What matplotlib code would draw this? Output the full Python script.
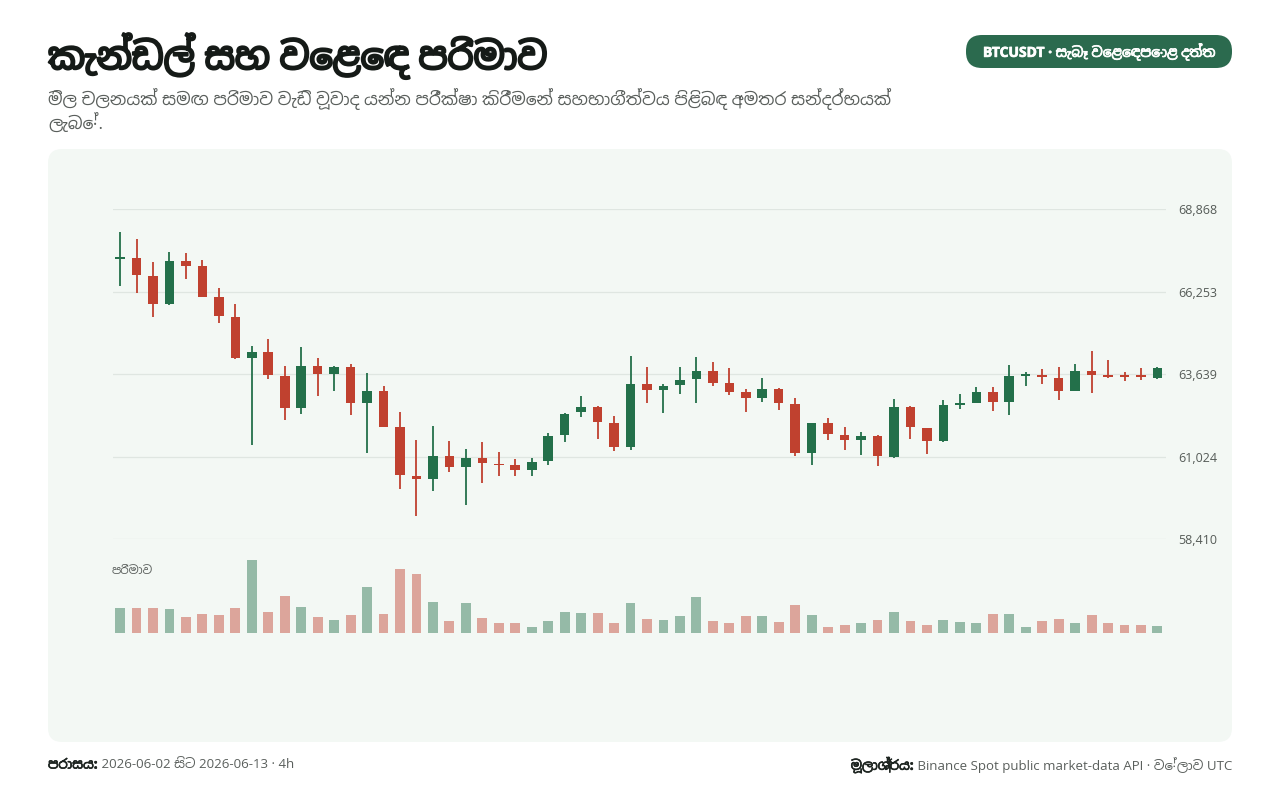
import numpy as np
import matplotlib
matplotlib.use("Agg")
import matplotlib.pyplot as plt
import matplotlib.patheffects as pe
from matplotlib import font_manager as fm
from matplotlib.ft2font import FT2Font
from matplotlib.patches import FancyBboxPatch
from matplotlib.ticker import FuncFormatter

# BTCUSDT 4h candles, 2026-06-02 .. 2026-06-13
opens = [67288, 67307, 66747, 65851, 67222, 67063, 66072, 65449, 64160, 64350,
         63581, 62546, 63888, 63644, 63866, 62735, 63106, 61944, 60415, 60298,
         61038, 60690, 60975, 60785, 60763, 60605, 60890, 61713, 62419, 62599,
         62071, 61311, 63328, 63138, 63296, 63495, 63749, 63350, 63065, 62875,
         63169, 62685, 61121, 62071, 61703, 61555, 61659, 61007, 62609, 61912,
         61501, 62663, 62716, 63084, 62748, 63590, 63622, 63508, 63106, 63749,
         63581, 63581, 63581, 63527]
highs = [68130, 67918, 67200, 67516, 67475, 67244, 66367, 65851, 64531, 64752,
         63897, 64489, 64151, 63907, 63961, 63666, 63255, 62432, 61532, 61976,
         61523, 61260, 61482, 61165, 60953, 60985, 61767, 62400, 62948, 62621,
         62305, 64223, 63856, 63328, 63856, 64182, 64034, 63834, 63160, 63518,
         63191, 62875, 62090, 62242, 61957, 61798, 61713, 62843, 62620, 61925,
         62821, 63001, 63242, 63233, 63920, 63698, 63802, 63856, 63951, 64382,
         64087, 63698, 63825, 63875]
lows = [66440, 66199, 65439, 65840, 66661, 66072, 65249, 64110, 61374, 63495,
        62197, 62387, 62948, 63106, 62346, 61121, 61950, 60003, 59139, 59940,
        60519, 59497, 60184, 60393, 60393, 60415, 60741, 61482, 62261, 61577,
        61184, 61216, 62716, 62409, 63001, 62716, 63264, 62979, 62419, 62748,
        62495, 61026, 60763, 61555, 61238, 61070, 60731, 60975, 61586, 61102,
        61490, 62536, 62705, 62473, 62346, 63274, 63318, 62821, 63095, 63052,
        63527, 63422, 63445, 63476]
closes = [67301, 66779, 65860, 67222, 67073, 66091, 65471, 64141, 64350, 63603,
          62546, 63897, 63644, 63866, 62735, 63106, 61966, 60437, 60310, 61038,
          60690, 60975, 60817, 60741, 60605, 60858, 61681, 62387, 62599, 62102,
          61311, 63318, 63138, 63264, 63464, 63749, 63369, 63084, 62875, 63169,
          62716, 61121, 62083, 61735, 61555, 61659, 61026, 62609, 61944, 61501,
          62663, 62716, 63084, 62748, 63590, 63644, 63559, 63106, 63749, 63603,
          63549, 63549, 63540, 63834]
volumes = [1250, 1235, 1235, 1200, 800, 950, 900, 1250, 3600, 1050,
           1815, 1300, 785, 650, 885, 2285, 915, 3135, 2915, 1550,
           615, 1500, 735, 485, 515, 315, 615, 1035, 1000, 965,
           515, 1485, 700, 620, 830, 1795, 605, 500, 830, 830,
           550, 1360, 880, 310, 380, 485, 620, 1050, 585, 395,
           620, 535, 485, 950, 915, 310, 585, 705, 515, 895,
           485, 395, 395, 330]
price_ticks = [58410, 61024, 63639, 66253, 68868]

title = "කැන්ඩල් සහ වෙළෙඳ පරිමාව"
subtitle1 = "මිල චලනයක් සමඟ පරිමාව වැඩි වූවාද යන්න පරීක්ෂා කිරීමෙන් සහභාගීත්වය පිළිබඳ අමතර සන්දර්භයක්"
subtitle2 = "ලැබේ."
badge = "BTCUSDT · සැබෑ වෙළෙඳපොළ දත්ත"
vol_label = "පරිමාව"
foot_l_bold, foot_l = "පරාසය:", " 2026-06-02 සිට 2026-06-13 · 4h"
foot_r_bold, foot_r = "මූලාශ්‍රය:", " Binance Spot public market-data API · වේලාව UTC"

UP = "#23704a"
DOWN = "#c0412f"
PANEL = "#f3f8f4"


def find_sinhala_font():
    # pick an installed font that has Sinhala glyphs, prefer a real Sinhala face
    found = []
    seen = set()
    for f in fm.fontManager.ttflist:
        if f.fname in seen:
            continue
        seen.add(f.fname)
        try:
            if 0x0D9A in FT2Font(f.fname).get_charmap():
                found.append(f.name)
        except Exception:
            pass
    if not found:
        return None
    def rank(name):
        low = name.lower()
        if "sinhala" in low or "iskoola" in low or "lklug" in low:
            return 0
        if "unifont" in low or "fixed" in low or "mono" in low:
            return 2
        return 1
    return sorted(found, key=rank)[0]


sin = find_sinhala_font()
fams = ["Open Sans"] + ([sin] if sin else []) + ["DejaVu Sans"]
plt.rcParams["font.family"] = fams


def heavy(color, w=1.0):
    # the Sinhala face has no bold weight, so thicken it with a stroke
    return [pe.withStroke(linewidth=w, foreground=color)]


W, H = 1280, 800
fig = plt.figure(figsize=(W / 100, H / 100), dpi=100)
fig.patch.set_facecolor("white")


def rect(x0, y0, x1, y1):
    return [x0 / W, 1 - y1 / H, (x1 - x0) / W, (y1 - y0) / H]


# background layer in pixel coordinates
bg = fig.add_axes([0, 0, 1, 1])
bg.set_xlim(0, W)
bg.set_ylim(H, 0)
bg.axis("off")
bg.add_patch(FancyBboxPatch((48, 149), 1184, 593, boxstyle="round,pad=0,rounding_size=14",
                            fc=PANEL, ec="none"))
bg.add_patch(FancyBboxPatch((966, 35), 266, 33, boxstyle="round,pad=0,rounding_size=16",
                            fc="#2b6a4e", ec="none"))
bg.text(1099, 52, badge, color="white", fontsize=10, fontweight="bold", ha="center", va="center",
        path_effects=heavy("white", 0.5))

bg.text(48, 56, title, fontsize=26.5, fontweight="bold", color="#151a17", va="center", ha="left",
        path_effects=heavy("#151a17", 1.6))
bg.text(48, 99, subtitle1, fontsize=12.3, color="#5a5f5c", va="center", ha="left")
bg.text(48, 124, subtitle2, fontsize=12.3, color="#5a5f5c", va="center", ha="left")
bg.text(112, 570, vol_label, fontsize=8.5, color="#5a5f5c", va="center", ha="left")

r = fig.canvas.get_renderer()
t = bg.text(48, 765, foot_l_bold, fontsize=9.5, fontweight="bold", color="#1d2420", va="center", ha="left",
            path_effects=heavy("#1d2420", 0.5))
x_end = t.get_window_extent(r).x1
bg.text(x_end, 765, foot_l, fontsize=9.5, color="#5a5f5c", va="center", ha="left")
t = bg.text(1232, 765, foot_r, fontsize=9.5, color="#5a5f5c", va="center", ha="right")
x_start = t.get_window_extent(r).x0
bg.text(x_start, 765, foot_r_bold, fontsize=9.5, fontweight="bold", color="#1d2420", va="center", ha="right",
        path_effects=heavy("#1d2420", 0.5))

# candles
n = len(opens)
x = np.arange(n)
xlim = (-0.43, n - 1 + 0.52)
o, h, l, c = map(np.array, (opens, highs, lows, closes))
up = c >= o
cols = np.where(up, UP, DOWN)

ax = fig.add_axes(rect(113, 209, 1166, 539))
ax.set_facecolor("none")
ax.set_xlim(*xlim)
ax.set_ylim(price_ticks[0], price_ticks[-1])
ax.set_yticks(price_ticks)
ax.yaxis.tick_right()
ax.yaxis.set_major_formatter(FuncFormatter(lambda v, p: f"{v:,.0f}"))
ax.tick_params(axis="y", length=0, pad=9, labelsize=9, labelcolor="#555b57")
ax.set_xticks([])
ax.grid(axis="y", color="#dfe6e1", linewidth=0.9)
ax.set_axisbelow(True)
for s in ax.spines.values():
    s.set_visible(False)

ax.vlines(x, l, h, colors=cols, linewidth=1.3, zorder=2)
min_body = (price_ticks[-1] - price_ticks[0]) * 0.005
body_lo = np.minimum(o, c)
body_h = np.maximum(np.abs(c - o), min_body)
ax.bar(x, body_h, bottom=body_lo, width=0.58, color=cols, zorder=3, linewidth=0)

# volume
vax = fig.add_axes(rect(113, 560, 1166, 633))
vax.set_facecolor("none")
vax.set_xlim(*xlim)
vax.set_ylim(0, max(volumes))
vax.bar(x, volumes, width=0.6, color=cols, alpha=0.45, linewidth=0)
vax.axis("off")

fig.savefig("out.png", dpi=100, facecolor="white")
